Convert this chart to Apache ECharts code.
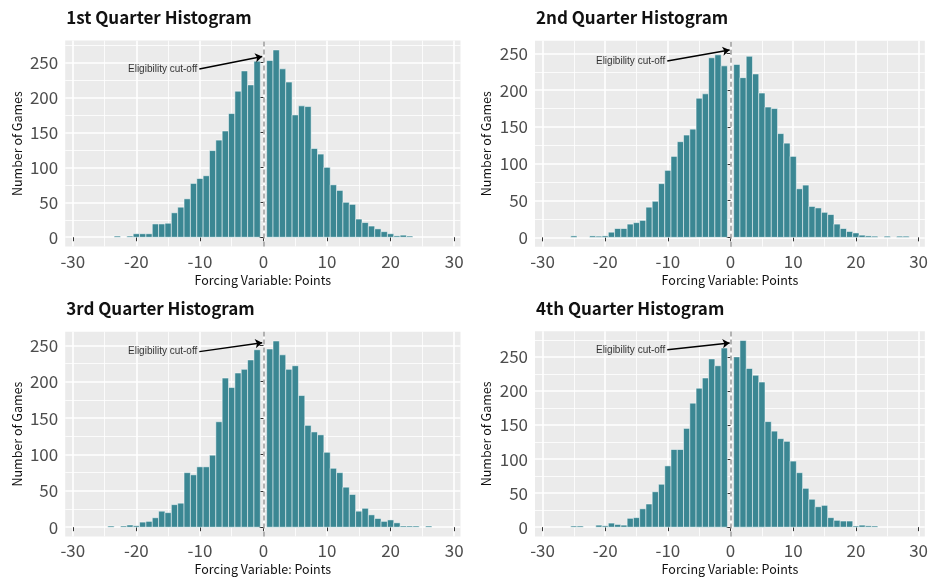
<!DOCTYPE html>
<html><head><meta charset="utf-8">
<script src="https://cdn.jsdelivr.net/npm/echarts@6/dist/echarts.min.js"></script>
<style>html,body{margin:0;padding:0;background:#fff;overflow:hidden}#c{width:931px;height:577px}</style>
</head><body><div id="c"></div>
<script>
// Bin centres (points), binwidth 1
const bins = [-25,-24,-23,-22,-21,-20,-19,-18,-17,-16,-15,-14,-13,-12,-11,-10,-9,-8,-7,-6,-5,-4,-3,-2,-1,0,1,2,3,4,5,6,7,8,9,10,11,12,13,14,15,16,17,18,19,20,21,22,23,24,25,26,27,28];
const q1 = [0,0,1,0,1,5,5,5,19,19,20,35,43,55,77,84,88,124,139,152,177,209,238,218,252,0,253,268,241,222,175,188,187,127,119,100,75,67,50,47,26,21,16,12,8,5,2,3,1,0,0,0,0,0];
const q2 = [2,0,0,2,1,2,7,12,12,18,20,23,41,49,73,91,110,130,139,147,189,195,244,248,233,0,235,217,246,222,196,177,175,141,128,110,66,71,42,40,34,31,18,12,8,6,3,2,1,0,1,0,1,1];
const q3 = [0,1,0,1,3,2,7,8,13,22,20,31,33,75,72,83,83,99,145,205,192,212,217,230,244,0,245,256,237,217,222,181,140,131,127,103,81,75,55,45,22,26,17,12,8,10,6,1,1,1,0,1,0,0];
const q4 = [1,1,0,0,3,2,6,4,3,13,14,27,34,52,63,90,114,114,145,182,204,219,247,237,263,0,250,274,233,223,213,155,141,130,126,97,80,57,41,30,32,14,10,9,9,1,3,2,1,0,0,0,0,0];
const quarters = [q1, q2, q3, q4];
const titles = ['1st Quarter Histogram','2nd Quarter Histogram','3rd Quarter Histogram','4th Quarter Histogram'];
const xTicks = [-30,-20,-10,0,10,20,30];
const xMinor = [-25,-15,-5,5,15,25];
const yTicks = [0,50,100,150,200,250];
const yMinor = [25,75,125,175,225,275];
const xLimits = [-31.2, 31];
const yLimits = [[-13.4,281.4],[-12.7,267.2],[-12.8,268.8],[-13.7,287.7]];
const cutoff = 0;
const cutoffLabel = 'Eligibility cut-off';
const arrowFrom = [[-10.1,240.8],[-10.1,239.5],[-10.1,241.4],[-10.1,260.3]];
const arrowTo = [[-0.2,258.7],[-0.15,254.5],[-0.2,253.7],[-0.15,270.5]];
const xTitle = 'Forcing Variable: Points';
const yTitle = 'Number of Games';

const FONT = '"Noto Sans CJK KR", "Noto Sans", sans-serif';
const lefts = [65.2, 535, 65.2, 535];
const tops = [40.6, 40.7, 331.7, 331.2];
const W = 395.3, H = 206;
const titleTops = [9.5, 9.5, 300.5, 300.5];

const grid = [], xAxis = [], yAxis = [], series = [], title = [];
quarters.forEach((counts, i) => {
  grid.push({left: lefts[i], top: tops[i], width: W, height: H, show: true,
    backgroundColor: '#ebebeb', borderWidth: 0, containLabel: false});
  title.push({text: titles[i], left: lefts[i] + 1, top: titleTops[i], padding: 0,
    textStyle: {fontFamily: FONT, fontSize: 17, fontWeight: 'bold', color: '#111'}});
  xAxis.push({type: 'value', gridIndex: i, min: xLimits[0], max: xLimits[1],
    name: xTitle, nameLocation: 'middle', nameGap: 27,
    nameTextStyle: {fontFamily: FONT, fontSize: 12.5, color: '#111'},
    axisLine: {show: false},
    axisTick: {show: true, length: 4, customValues: xTicks, lineStyle: {color: '#333', width: 1}},
    axisLabel: {customValues: xTicks, margin: 6, fontFamily: FONT, fontSize: 17, color: '#4d4d4d'},
    splitLine: {show: true, lineStyle: {color: '#fff', width: 1.6}}});
  xAxis.push({type: 'value', gridIndex: i, min: xLimits[0], max: xLimits[1],
    axisLine: {show: false}, axisLabel: {show: false},
    axisTick: {show: false, customValues: xMinor},
    splitLine: {show: true, lineStyle: {color: '#fff', width: 0.8}}});
  yAxis.push({type: 'value', gridIndex: i, min: yLimits[i][0], max: yLimits[i][1],
    name: yTitle, nameLocation: 'middle', nameGap: 42,
    nameTextStyle: {fontFamily: FONT, fontSize: 12.5, color: '#111'},
    axisLine: {show: false},
    axisTick: {show: true, length: 4, customValues: yTicks, lineStyle: {color: '#333', width: 1}},
    axisLabel: {customValues: yTicks, margin: 7, fontFamily: FONT, fontSize: 17, color: '#4d4d4d'},
    splitLine: {show: true, lineStyle: {color: '#fff', width: 1.6}}});
  yAxis.push({type: 'value', gridIndex: i, min: yLimits[i][0], max: yLimits[i][1],
    axisLine: {show: false}, axisLabel: {show: false},
    axisTick: {show: false, customValues: yMinor},
    splitLine: {show: true, lineStyle: {color: '#fff', width: 0.8}}});

  series.push({type: 'custom', xAxisIndex: 2 * i, yAxisIndex: 2 * i,
    data: bins.map((b, k) => [b, counts[k]]),
    renderItem: (params, api) => {
      const x = api.value(0), y = api.value(1);
      if (!y) return null;
      const p0 = api.coord([x - 0.5, 0]);
      const p1 = api.coord([x + 0.5, y]);
      const h = Math.max(p0[1] - p1[1], 1.2);
      return {type: 'rect', shape: {x: p0[0], y: p0[1] - h, width: p1[0] - p0[0], height: h},
        style: {fill: '#3b8793', stroke: '#ffffff', lineWidth: 0.5}};
    },
    markLine: {silent: true, symbol: ['none', 'none'], animation: false,
      label: {show: false},
      data: [[{coord: [cutoff, yLimits[i][0]]}, {coord: [cutoff, yLimits[i][1]]}]],
      lineStyle: {color: '#a0a0a0', width: 1.6, type: [5, 3]}}
  });
  series.push({type: 'line', xAxisIndex: 2 * i, yAxisIndex: 2 * i, data: [], silent: true,
    markLine: {silent: true, animation: false, symbol: ['none', 'arrow'], symbolSize: 7,
      label: {show: false},
      lineStyle: {color: '#000', width: 1.5, type: 'solid'},
      data: [[{coord: arrowFrom[i]}, {coord: arrowTo[i]}]]}
  });
  series.push({type: 'scatter', xAxisIndex: 2 * i, yAxisIndex: 2 * i, silent: true,
    symbolSize: 0, data: [arrowFrom[i]],
    label: {show: true, position: 'left', distance: 2, formatter: cutoffLabel,
      fontFamily: '"Liberation Sans", Arial, sans-serif', fontSize: 10, color: '#000'}});
});

const chart = echarts.init(document.getElementById('c'), null, {renderer: 'canvas'});
chart.setOption({animation: false, title, grid, xAxis, yAxis, series});
</script></body></html>
